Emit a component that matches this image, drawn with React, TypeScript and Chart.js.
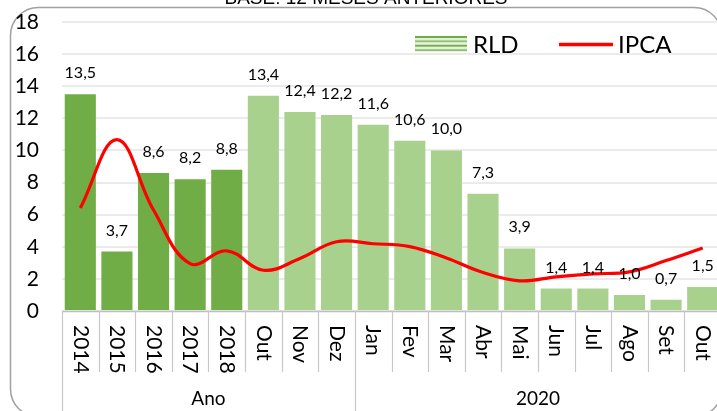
import React, { useEffect, useRef } from 'react';
import { Chart, registerables } from 'chart.js';

Chart.register(...registerables);

// ---- data ----
const categories = ['2014', '2015', '2016', '2017', '2018', 'Out', 'Nov', 'Dez', 'Jan', 'Fev', 'Mar', 'Abr', 'Mai', 'Jun', 'Jul', 'Ago', 'Set', 'Out'];
const rldValues = [13.5, 3.7, 8.6, 8.2, 8.8, 13.4, 12.4, 12.2, 11.6, 10.6, 10.0, 7.3, 3.9, 1.4, 1.4, 1.0, 0.7, 1.5];
const ipcaValues = [6.41, 10.67, 6.29, 2.95, 3.75, 2.54, 3.27, 4.31, 4.19, 4.01, 3.3, 2.4, 1.88, 2.13, 2.31, 2.44, 3.14, 3.92];
const annualFlags = [true, true, true, true, true, false, false, false, false, false, false, false, false, false, false, false, false, false];
const groupLabels = ['Ano', '2020'];
const groupStart = [0, 8];
const groupEnd = [7, 17];
const seriesNames = ['RLD', 'IPCA'];
const titleText = 'BASE: 12 MESES ANTERIORES';
const yMin = 0;
const yMax = 18;
const yStep = 2;

const DARK = '#70AD47';
const LIGHT = '#A9D18E';
const RED = '#FF0000';
const FONT = 'Lato, "Open Sans", sans-serif';

const fmt = (v: number) => v.toFixed(1).replace('.', ',');

function roundRectPath(ctx: CanvasRenderingContext2D, x: number, y: number, w: number, h: number, r: number) {
  ctx.beginPath();
  ctx.moveTo(x + r, y);
  ctx.lineTo(x + w - r, y);
  ctx.arcTo(x + w, y, x + w, y + r, r);
  ctx.lineTo(x + w, y + h - r);
  ctx.arcTo(x + w, y + h, x + w - r, y + h, r);
  ctx.lineTo(x + r, y + h);
  ctx.arcTo(x, y + h, x, y + h - r, r);
  ctx.lineTo(x, y + r);
  ctx.arcTo(x, y, x + r, y, r);
  ctx.closePath();
}

const decorPlugin = {
  id: 'decor',
  beforeDraw(chart: any) {
    const ctx: CanvasRenderingContext2D = chart.ctx;
    ctx.save();
    ctx.fillStyle = '#ffffff';
    ctx.fillRect(0, 0, chart.width, chart.height);
    ctx.strokeStyle = '#A0A0A0';
    ctx.lineWidth = 1.5;
    roundRectPath(ctx, 10.5, 7.5, 722 - 10.5, 417 - 7.5, 28);
    ctx.stroke();
    // title (mostly cut off above the frame)
    ctx.fillStyle = '#000';
    ctx.font = '18px "Liberation Sans"';
    const w = ctx.measureText(titleText).width;
    const size = 18 * 283 / w;
    ctx.font = `${size}px "Liberation Sans"`;
    ctx.textAlign = 'center';
    ctx.textBaseline = 'alphabetic';
    ctx.fillText(titleText, 366, 3.5);
    ctx.restore();
  },
  afterDatasetsDraw(chart: any) {
    const ctx: CanvasRenderingContext2D = chart.ctx;
    const meta = chart.getDatasetMeta(0);
    ctx.save();
    ctx.fillStyle = '#000';
    ctx.font = `16px ${FONT}`;
    ctx.textAlign = 'center';
    ctx.textBaseline = 'alphabetic';
    meta.data.forEach((el: any, i: number) => {
      ctx.fillText(fmt(rldValues[i]), el.x, el.y - 16);
    });
    ctx.restore();
  },
  afterDraw(chart: any) {
    const ctx: CanvasRenderingContext2D = chart.ctx;
    const area = chart.chartArea;
    const xs = chart.scales.x;
    const n = categories.length;
    const catW = (area.right - area.left) / n;
    ctx.save();
    // axis line
    ctx.strokeStyle = '#BFBFBF';
    ctx.lineWidth = 1.5;
    ctx.beginPath();
    ctx.moveTo(area.left, area.bottom + 0.5);
    ctx.lineTo(area.right, area.bottom + 0.5);
    ctx.stroke();
    // separators
    ctx.strokeStyle = '#C8C8C8';
    ctx.lineWidth = 1.2;
    for (let i = 0; i <= n; i++) {
      const x = Math.round(area.left + i * catW) + 0.5;
      const isGroupEdge = groupStart.includes(i) || i === n;
      ctx.beginPath();
      ctx.moveTo(x, area.bottom);
      ctx.lineTo(x, isGroupEdge ? chart.height : area.bottom + 61);
      ctx.stroke();
    }
    // category labels rotated
    ctx.fillStyle = '#000';
    ctx.font = `21px ${FONT}`;
    ctx.textAlign = 'left';
    ctx.textBaseline = 'middle';
    categories.forEach((c, i) => {
      const x = xs.getPixelForValue(i);
      ctx.save();
      ctx.translate(x, area.bottom + 14);
      ctx.rotate(Math.PI / 2);
      ctx.fillText(c, 0, 0);
      ctx.restore();
    });
    // group labels
    ctx.font = `19px ${FONT}`;
    ctx.textAlign = 'center';
    groupLabels.forEach((g, k) => {
      const x0 = area.left + groupStart[k] * catW;
      const x1 = area.left + (groupEnd[k] + 1) * catW;
      ctx.fillText(g, (x0 + x1) / 2, 399);
    });
    // legend
    const lx = 415, ly = 36;
    for (let s = 0; s < 4; s++) {
      ctx.fillStyle = s % 2 === 0 ? DARK : '#8CC06A';
      ctx.fillRect(lx, ly + s * 4.4, 52, 2);
      ctx.fillStyle = '#E2EFD9';
      if (s < 3) ctx.fillRect(lx, ly + s * 4.4 + 2, 52, 2.4);
    }
    ctx.fillStyle = '#000';
    ctx.font = `24px ${FONT}`;
    ctx.textAlign = 'left';
    ctx.textBaseline = 'middle';
    ctx.fillText(seriesNames[0], 473, 45);
    ctx.strokeStyle = RED;
    ctx.lineWidth = 3.5;
    ctx.beginPath();
    ctx.moveTo(559, 44.5);
    ctx.lineTo(613, 44.5);
    ctx.stroke();
    ctx.fillText(seriesNames[1], 618, 45);
    ctx.restore();
  },
};

export default function App() {
  const ref = useRef<HTMLCanvasElement | null>(null);
  useEffect(() => {
    if (!ref.current) return;
    const chart = new Chart(ref.current, {
      type: 'bar',
      data: {
        labels: categories,
        datasets: [
          {
            type: 'bar',
            label: seriesNames[0],
            data: rldValues,
            backgroundColor: annualFlags.map((a) => (a ? DARK : LIGHT)),
            barPercentage: 0.85,
            categoryPercentage: 1,
            order: 2,
          },
          {
            type: 'line',
            label: seriesNames[1],
            data: ipcaValues,
            borderColor: RED,
            borderWidth: 3.2,
            pointRadius: 0,
            tension: 0.4,
            fill: false,
            order: 1,
          } as any,
        ],
      },
      options: {
        responsive: false,
        animation: false,
        devicePixelRatio: 1,
        layout: { padding: { top: 22, right: 19, left: 0, bottom: 0 } },
        plugins: { legend: { display: false }, tooltip: { enabled: false }, title: { display: false } },
        scales: {
          x: {
            ticks: { display: false },
            grid: { display: false, drawTicks: false },
            border: { display: false },
            afterFit: (s: any) => { s.height = 119; s.paddingLeft = 0; s.paddingRight = 0; },
          },
          y: {
            min: yMin,
            max: yMax,
            ticks: { stepSize: yStep, padding: 23, color: '#000', font: { family: FONT, size: 21 } },
            grid: { color: '#EBEBEB', lineWidth: 2, drawTicks: false },
            border: { display: false },
            afterFit: (s: any) => { s.width = 62; s.paddingTop = 0; s.paddingBottom = 0; },
          },
        },
      },
      plugins: [decorPlugin],
    });
    return () => chart.destroy();
  }, []);
  return (
    <div style={{ position: 'fixed', left: 0, top: 0, width: 717, height: 411, overflow: 'hidden', background: '#fff' }}>
      <canvas ref={ref} width={740} height={430} style={{ width: 740, height: 430, display: 'block' }} />
    </div>
  );
}
